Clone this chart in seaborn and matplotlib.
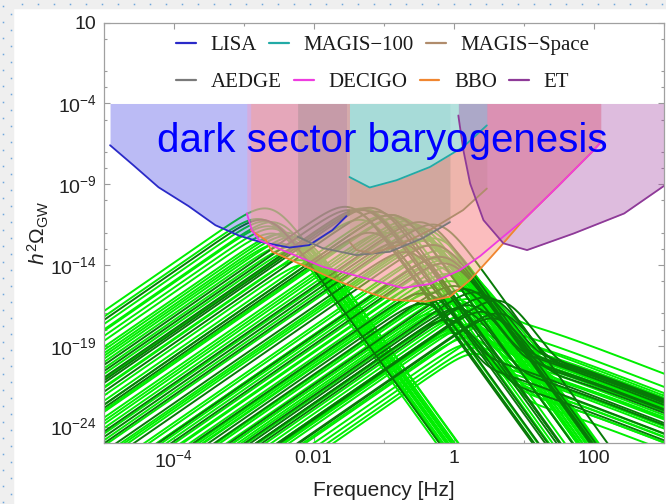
import numpy as np
import pandas as pd
import seaborn as sns
import matplotlib
matplotlib.use("Agg")
import matplotlib.pyplot as plt
from matplotlib.patches import Rectangle
from matplotlib.lines import Line2D
from matplotlib.font_manager import FontProperties
from matplotlib.ticker import FixedLocator, FixedFormatter, NullFormatter

sns.set_theme(style="ticks")
plt.rcParams["font.family"] = ["Liberation Sans", "DejaVu Sans"]
plt.rcParams["mathtext.fontset"] = "custom"
plt.rcParams["mathtext.rm"] = "Liberation Sans"
plt.rcParams["mathtext.it"] = "Liberation Sans:italic"
plt.rcParams["mathtext.bf"] = "Liberation Sans:bold"
plt.rcParams["mathtext.sf"] = "Liberation Sans"

# ---------------- detector sensitivity curves (f in Hz, h^2 Omega) ----------------
lisa_f = [1.24e-5, 2.67e-5, 6.1e-5, 1.64e-4, 3.96e-4, 8.6e-4, 1.66e-3, 4.5e-3, 8.6e-3, 1.85e-2, 2.94e-2]
lisa_h = [2.6e-7, 1.5e-8, 6.5e-10, 4.4e-11, 2.9e-12, 6.6e-13, 2.8e-13, 1.2e-13, 1.7e-13, 1.45e-12, 1.06e-11]

decigo_f = [1.11e-3, 1.31e-3, 1.66e-3, 3.55e-3, 1.33e-2, 4.5e-2, 0.187, 0.456, 1.23, 2.38, 4.6, 9.8, 29.9, 89.9, 125.0]
decigo_h = [1.6e-11, 1.45e-12, 3.5e-13, 8.4e-14, 7.9e-15, 1.9e-15, 3.8e-16, 6.7e-16, 4.9e-15, 3.6e-14, 4.0e-13, 6.0e-12, 6.8e-10, 8.2e-8, 3.9e-7]

bbo_f = [1.26e-3, 2.07e-3, 2.55e-3, 7.8e-3, 2.33e-2, 6.3e-2, 0.134, 0.408, 0.881, 1.71, 3.3, 4.6, 9.8, 29.9, 89.9, 125.0]
bbo_h = [1.45e-12, 3.5e-13, 6.6e-14, 7.9e-15, 9.3e-16, 1.87e-16, 6.9e-17, 5.4e-17, 1.1e-16, 1.19e-15, 2.7e-14, 1.35e-13, 6.0e-12, 6.8e-10, 8.2e-8, 3.9e-7]

aedge_f = [5.9e-3, 1.33e-2, 4.05e-2, 0.122, 0.361, 0.881]
aedge_h = [5.6e-13, 1.12e-13, 4.1e-14, 6.6e-14, 4.6e-13, 4.5e-12]

magis_space_f = [3.24e-2, 4.05e-2, 6.9e-2, 0.169, 0.456, 1.355, 2.96]
magis_space_h = [2.7e-13, 8.4e-14, 5.5e-14, 1.72e-13, 1.45e-12, 2.5e-11, 5.4e-10]

magis100_f = [3.24e-2, 6.3e-2, 0.152, 0.456, 1.355, 2.96]
magis100_h = [2.8e-9, 6.3e-10, 1.77e-9, 1.17e-8, 2.0e-7, 4.4e-6]

et_f = [1.16, 1.37, 1.71, 2.65, 5.1, 11.1, 51.9, 270.0, 1000.0]
et_h = [1.8e-5, 1.26e-7, 1.1e-9, 6.0e-12, 2.2e-13, 8.4e-14, 9.1e-13, 1.55e-11, 7.9e-10]

# ---------------- GW spectra of the parameter points ----------------
# peak frequency [Hz], peak h^2 Omega of the sound-wave part,
# and turbulence level relative to that peak
light_fpeak = [2.0e-3, 2.0e-3, 2.5e-3, 3.2e-3, 4.0e-3, 5.0e-3, 5.0e-2, 0.126, 2.2e-3, 4.0e-3,
               4.5e-2, 0.20, 4.0e-3, 6.3e-3, 0.14, 0.10, 0.28, 0.158, 0.25, 0.40,
               0.63, 0.40, 0.63, 0.89, 0.40, 0.71, 0.50, 0.89, 0.63, 1.0,
               1.58, 3.2, 2.2, 4.0, 0.50, 0.79, 1.26, 2.0, 1.0, 1.58,
               2.0, 1.58e-3, 2.5e-3, 2.5e-3, 3.2e-3, 5.0e-3, 6.3e-3, 7.9e-3, 0.10, 0.25,
               0.20, 0.355, 0.50, 0.56, 0.48, 0.42, 1.2, 1.2, 0.83, 2.4,
               1.48, 1.66, 4.2, 2.24, 0.63, 0.89, 0.50, 0.79, 0.63, 1.0,
               1.26, 1.41, 1.0]
light_peak = [3.2e-11, 5.0e-12, 4.5e-12, 7.9e-13, 1.0e-12, 5.6e-13, 3.2e-11, 1.26e-11, 2.5e-12, 1.78e-13,
              6.3e-12, 3.2e-12, 6.3e-13, 2.0e-14, 7.9e-12, 1.0e-12, 4.0e-13, 8.9e-12, 1.58e-12, 3.2e-14,
              3.2e-14, 3.2e-13, 7.9e-14, 7.9e-15, 1.58e-13, 2.0e-14, 4.0e-16, 1.0e-15, 1.0e-16, 5.0e-17,
              7.9e-17, 2.5e-17, 1.0e-17, 4.0e-18, 1.0e-17, 3.2e-18, 6.3e-18, 2.5e-18, 6.3e-19, 3.2e-19,
              3.2e-20, 7.1e-12, 1.78e-12, 8.9e-13, 2.2e-13, 1.41e-13, 1.26e-13, 1.15e-14, 1.1e-11, 3.5e-12,
              5.0e-12, 1.78e-12, 4.5e-13, 2.5e-14, 1.0e-14, 1.0e-15, 4.0e-15, 2.5e-16, 2.0e-17, 2.5e-17,
              1.58e-18, 1.26e-19, 1.0e-18, 7.9e-20, 3.6e-14, 1.78e-14, 2.0e-16, 2.8e-15, 7.1e-17, 7.9e-17,
              1.58e-17, 2.0e-18, 1.0e-18]
light_ratio = [0, 0, 0, 0, 0, 0, 0, 0, 0, 0,
               0, 0, 0, 0, 0, 0, 0, 0, 0, 0,
               0, 0, 0, 0, 0, 0, 2e-2, 2e-2, 2e-2, 2e-2,
               2e-2, 2e-2, 2e-2, 2e-2, 2e-2, 2e-2, 2e-2, 2e-2, 2e-2, 2e-2,
               2e-2, 0, 0, 0, 0, 0, 0, 0, 0, 0,
               0, 0, 0, 0, 0, 2e-2, 2e-2, 2e-2, 2e-2, 2e-2,
               2e-2, 2e-2, 2e-2, 2e-2, 0, 0, 2e-2, 0, 2e-2, 2e-2,
               2e-2, 2e-2, 2e-2]

dark_fpeak = [3.2e-2, 7.9e-2, 5.0e-2, 0.158, 4.5e-2, 0.20, 0.126, 0.50, 0.63, 0.355,
              1.0, 1.41, 2.0, 2.8, 4.0, 1.58, 2.5, 3.5, 0.79, 1.78e-3,
              2.8e-2, 6.3e-2, 6.3e-2, 0.32, 0.50, 0.71, 0.355, 1.12, 4.2]
dark_peak = [2.5e-11, 2.0e-11, 2.5e-11, 2.5e-13, 2.8e-11, 6.3e-14, 1.26e-11, 3.2e-12, 3.2e-14, 1.78e-16,
             5.0e-16, 3.2e-16, 2.0e-16, 1.0e-16, 6.3e-17, 3.2e-17, 1.26e-17, 5.0e-18, 4.0e-18, 6.3e-12,
             4.0e-11, 3.5e-11, 1.0e-12, 4.5e-12, 1.74e-13, 1.26e-14, 4.0e-17, 2.0e-17, 1.0e-17]
dark_ratio = [0, 0, 0, 0, 0, 0, 0, 0, 0, 3e-3,
              2.5e-3, 3e-3, 4.5e-3, 4e-3, 4e-3, 1e-2, 1e-2, 1e-2, 3e-3, 0,
              0, 0, 0, 0, 0, 0, 3e-3, 3e-3, 2e-2]


def spectrum(f, fp, amp, ratio):
    """Broken power-law bump (f^3 below, f^-6 above the peak) plus a turbulence tail."""
    x = f / fp
    sw = amp * x**3 * (9.0 / (6.0 + 3.0 * x**3)) ** 3
    y = f / (1.4 * fp)
    tb = amp * ratio * 4.0 * y**3 / ((1.0 + y) ** (11.0 / 3.0) * (1.0 + 4.0 * y))
    return sw + tb


freq = np.logspace(-5.2, 3.2, 500)


def spectra_frame(fpeaks, peaks, ratios):
    rows = []
    for i, (fp, a, r) in enumerate(zip(fpeaks, peaks, ratios)):
        rows.append(pd.DataFrame({"frequency": freq,
                                  "h2Omega": spectrum(freq, fp, a, r),
                                  "curve": i}))
    return pd.concat(rows, ignore_index=True)


light_df = spectra_frame(light_fpeak, light_peak, light_ratio)
dark_df = spectra_frame(dark_fpeak, dark_peak, dark_ratio)

# ---------------- figure ----------------
W, H = 666, 504
fig = plt.figure(figsize=(W / 100, H / 100), dpi=100)
fig.patch.set_facecolor("white")

# slide margin strips
fig.patches.append(Rectangle((0, 0), 12.7 / W, 1, transform=fig.transFigure,
                             color="#efefef", zorder=-10))
fig.patches.append(Rectangle((0, 1 - 7.5 / H), 1, 7.5 / H, transform=fig.transFigure,
                             color="#efefef", zorder=-10))
ys = np.arange(6, H, 16)
fig.add_artist(Line2D(np.full(ys.size, 2.7 / W), 1 - ys / H, transform=fig.transFigure,
                      ls="none", marker="s", ms=1.1, mew=0, color="#6fa6dc"))
fig.add_artist(Line2D(np.full(ys.size, 10.7 / W), 1 - (ys + 8) / H, transform=fig.transFigure,
                      ls="none", marker="s", ms=1.1, mew=0, color="#6fa6dc"))
xs = np.arange(22, W, 16)
fig.add_artist(Line2D(xs / W, np.full(xs.size, 1 - 3.5 / H), transform=fig.transFigure,
                      ls="none", marker="s", ms=1.1, mew=0, color="#6fa6dc"))

ax = fig.add_axes([103.5 / W, 1 - 442.7 / H, (664 - 103.5) / W, 420 / H])
ax.set_facecolor("white")
ax.set_xscale("log")
ax.set_yscale("log")

LIGHT = "#00ee00"
DARK = "#077a07"
sns.lineplot(data=light_df, x="frequency", y="h2Omega", units="curve", estimator=None,
             sort=False, color=LIGHT, linewidth=1.4, legend=False, ax=ax, zorder=1)
sns.lineplot(data=dark_df, x="frequency", y="h2Omega", units="curve", estimator=None,
             sort=False, color=DARK, linewidth=1.4, legend=False, ax=ax, zorder=1.1)

TOP = 1e-4
detectors = [
    # name, f, h, line colour, fill colour, fill alpha
    ("LISA", lisa_f, lisa_h, "#2a2ac8", (32/255, 32/255, 225/255), 0.30),
    ("BBO", bbo_f, bbo_h, "#f08630", (248/255, 166/255, 111/255), 0.45),
    ("DECIGO", decigo_f, decigo_h, "#ee3ce0", (252/255, 152/255, 190/255), 0.40),
    ("AEDGE", aedge_f, aedge_h, "#7a7a7a", (128/255, 128/255, 128/255), 0.30),
    ("MAGIS-Space", magis_space_f, magis_space_h, "#b08c6c", (200/255, 160/255, 120/255), 0.25),
    ("MAGIS-100", magis100_f, magis100_h, "#22aaa6", (140/255, 255/255, 255/255), 0.60),
    ("ET", et_f, et_h, "#8e3a98", (161/255, 64/255, 161/255), 0.35),
]
line_color = {}
for name, f, h, lc, fc, a in detectors:
    ax.fill_between(f, h, TOP, color=fc, alpha=a, lw=0, zorder=2)
    line_color[name] = lc
for name, f, h, lc, fc, a in detectors:
    sns.lineplot(x=f, y=h, sort=False, color=lc, linewidth=1.3, ax=ax, zorder=3, legend=False)

ax.set_xlim(1e-5, 1e3)
ax.set_ylim(1e-25, 10)

# ticks
ax.xaxis.set_major_locator(FixedLocator([1e-4, 1e-2, 1, 1e2]))
ax.xaxis.set_major_formatter(FixedFormatter([r"$10^{-4}$", "0.01", "1", "100"]))
ax.xaxis.set_minor_locator(FixedLocator([1e-5, 1e-3, 1e-1, 1e1, 1e3]))
ax.xaxis.set_minor_formatter(NullFormatter())
ax.yaxis.set_major_locator(FixedLocator([1e1, 1e-4, 1e-9, 1e-14, 1e-19, 1e-24]))
ax.yaxis.set_major_formatter(FixedFormatter(["10", r"$10^{-4}$", r"$10^{-9}$",
                                             r"$10^{-14}$", r"$10^{-19}$", r"$10^{-24}$"]))
ax.yaxis.set_minor_locator(FixedLocator([1e0, 1e-2, 1e-3, 1e-5, 1e-7, 1e-8, 1e-10, 1e-12, 1e-13,
                                         1e-15, 1e-17, 1e-18, 1e-20, 1e-22, 1e-23, 1e-25]))
ax.yaxis.set_minor_formatter(NullFormatter())
ax.tick_params(which="both", direction="in", top=True, right=True, colors="#9a9a9a",
               labelcolor="#222222", labelsize=14)
ax.tick_params(which="major", length=4.5, width=0.8, pad=5)
ax.tick_params(which="minor", length=2.5, width=0.8)
for s in ax.spines.values():
    s.set_color("#a0a0a0")
    s.set_linewidth(0.9)
    s.set_zorder(5)

ax.set_xlabel("Frequency [Hz]", fontsize=15, color="#222222")
ax.xaxis.set_label_coords(0.5, -0.09)
ax.set_ylabel(r"$h^2\Omega_{\rm GW}$", fontsize=15, color="#222222")
ax.yaxis.set_label_coords(-0.094, 0.5)

ax.text(157 / W, 1 - 151.7 / H, "dark sector baryogenesis", transform=fig.transFigure,
        fontsize=29, color="#0000ff", ha="left", va="baseline", zorder=10,
        family=["Liberation Sans", "DejaVu Sans"])

# legend in two rows
serif = FontProperties(family="Liberation Serif", size=15)
rows = [["LISA", "MAGIS-100", "MAGIS-Space"], ["AEDGE", "DECIGO", "BBO", "ET"]]
row_y = [45, 82]
for names, yy in zip(rows, row_y):
    handles = [Line2D([], [], color=line_color[n], lw=1.6) for n in names]
    labels = [n.replace("-", "\u2212") for n in names]
    leg = fig.legend(handles, labels, loc="center left", bbox_to_anchor=(176 / W, 1 - yy / H),
                     ncol=len(names), frameon=False, borderpad=0, borderaxespad=0,
                     handlelength=0.95, handletextpad=0.7, columnspacing=0.6, prop=serif)
    for t in leg.get_texts():
        t.set_color("#1a1a1a")

fig.savefig("out.png", dpi=100, facecolor=fig.get_facecolor())
